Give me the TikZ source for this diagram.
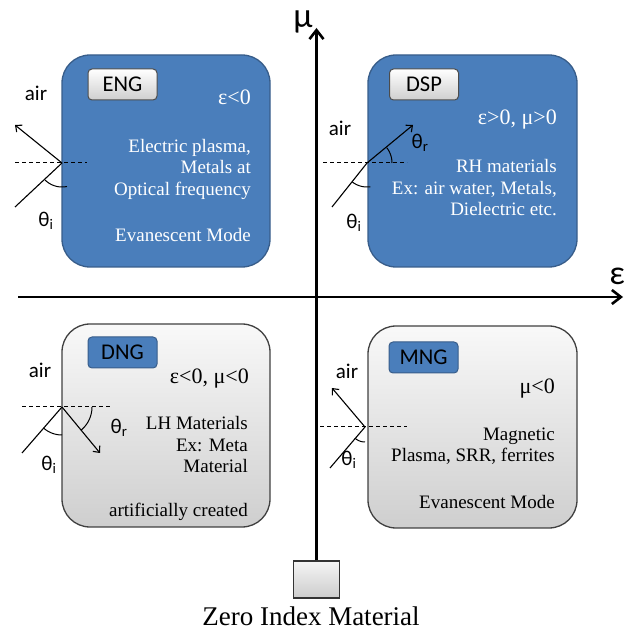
\documentclass[tikz,border=0pt]{standalone}
\usepackage{fontspec}
\setmainfont{Liberation Serif}
\newfontfamily\tnr{Liberation Serif}
\newfontfamily\calib{Carlito}
\usetikzlibrary{arrows.meta,calc}
\definecolor{qblue}{RGB}{74,126,187}
\definecolor{qblueline}{RGB}{56,93,138}
\tikzset{
  quadblue/.style={draw=qblueline, line width=1.3pt, fill=qblue, rounded corners=28pt, inner sep=0pt},
  quadgray/.style={draw=black!75, line width=1.3pt, top color=gray!5, bottom color=gray!38, rounded corners=28pt, inner sep=0pt},
  taggray/.style={draw=black!70, line width=1pt, rounded corners=4pt, top color=white, bottom color=gray!38,
    minimum width=69pt, minimum height=31pt, inner sep=0pt, font=\calib\fontsize{22.5}{24}\selectfont},
  tagblue/.style={draw=qblueline, line width=1pt, rounded corners=4pt, fill=qblue,
    minimum width=69pt, minimum height=31pt, inner sep=0pt, font=\calib\fontsize{22.5}{24}\selectfont},
  btext/.style={font=\tnr\fontsize{19}{21.5}\selectfont, align=right, anchor=east, inner sep=0pt},
  symtext/.style={font=\tnr\fontsize{22}{24}\selectfont, align=right, anchor=east, inner sep=0pt},
  airtext/.style={font=\calib\fontsize{21}{22}\selectfont, inner sep=0pt},
  angtext/.style={font=\calib\fontsize{21}{22}\selectfont, inner sep=0pt},
  ray/.style={line width=1.1pt},
  rayarrow/.style={line width=1.1pt, -{Straight Barb[length=5pt,width=9pt]}},
  dashline/.style={line width=1pt, dash pattern=on 4pt off 3pt},
  anglearc/.style={line width=1pt},
  axisline/.style={line width=2.6pt, -{Straight Barb[length=9pt,width=14pt]}},
}
\begin{document}
\begin{tikzpicture}[x=1pt,y=-1pt]
\useasboundingbox (0,0) rectangle (633,631);

% axes
\coordinate (muTip) at (316.5,28);
\coordinate (epsL) at (18,297);
\coordinate (epsTip) at (623,297);
\node[draw=black!80, line width=1.2pt, top color=gray!8, bottom color=gray!40, minimum width=46pt, minimum height=37pt, inner sep=0pt] (zsq) at (316.5,579.5) {};
\draw[axisline] (zsq.north) -- (muTip);
\draw[axisline] (epsL) -- (epsTip);
\node[font=\calib\fontsize{35}{37}\selectfont, inner sep=0pt] (mulab) at (303,22) {μ};
\node[font=\calib\fontsize{34}{36}\selectfont, inner sep=0pt] (epslab) at (617,276) {ε};
\node[font=\tnr\fontsize{27}{30}\selectfont, inner sep=0pt] (zim) at (311,616) {Zero Index Material};

% quadrant boxes
\node[quadblue, minimum width=208pt, minimum height=212pt] (eng) at (166,161) {};
\node[quadblue, minimum width=209pt, minimum height=212pt] (dsp) at (472.5,161) {};
\node[quadgray, minimum width=208pt, minimum height=203pt] (dng) at (166,425.5) {};
\node[quadgray, minimum width=209pt, minimum height=202pt] (mng) at (472.5,427) {};

% tags
\node[taggray] (engtag) at (122.5,84.5) {ENG};
\node[taggray] (dsptag) at (424,84.5) {DSP};
\node[tagblue] (dngtag) at (122.5,352.5) {DNG};
\node[tagblue] (mngtag) at (423.5,357.5) {MNG};

% texts ENG
\node[symtext, text=white] (engt1) at (251,97) {ε<0};
\node[btext, text=white] (engt2) at (251,169) {Electric plasma,\\Metals at\\Optical frequency};
\node[btext, text=white] (engt3) at (251,235) {Evanescent Mode};
% texts DSP
\node[symtext, text=white] (dspt1) at (557,119.5) {ε>0, μ>0};
\node[btext, text=white] (dspt2) at (557,188) {RH materials\\Ex: air water, Metals,\\Dielectric etc.};
% texts DNG
\node[symtext] (dngt1) at (249,379) {ε<0, μ<0};
\node[btext] (dngt2) at (248,445) {LH Materials\\Ex: Meta\\Material};
\node[btext] (dngt3) at (248,512) {artificially created};
% texts MNG
\node[symtext] (mngt1) at (555,389) {μ<0};
\node[btext] (mngt2) at (555,446) {Magnetic\\Plasma, SRR, ferrites};
\node[btext] (mngt3) at (555,502) {Evanescent Mode};

% ---- ENG rays
\coordinate (engP) at (62,163);
\coordinate (engDL) at (15,163);
\coordinate (engDR) at (87,163);
\coordinate (engI) at (15,207);
\coordinate (engR) at (15,125);
\draw[dashline] (engDL) -- (engDR);
\draw[ray] (engI) -- (engP);
\draw[rayarrow] (engP) -- (engR);
\draw[anglearc] plot[domain=78:135, samples=20, variable=\t] ({62+24*cos(\t)},{163+24*sin(\t)});
\node[airtext] (engair) at (36,93) {air};
\node[angtext] (engthi) at (46,221) {θ\textsubscript{i}};

% ---- DSP rays
\coordinate (dspP) at (367,163);
\coordinate (dspDL) at (323,163);
\coordinate (dspDR) at (407,163);
\coordinate (dspI) at (332,207);
\coordinate (dspR) at (413,125);
\draw[dashline] (dspDL) -- (dspDR);
\draw[ray] (dspI) -- (dspP);
\draw[rayarrow] (dspP) -- (dspR);
\draw[anglearc] plot[domain=-38:0, samples=20, variable=\t] ({367+25*cos(\t)},{163+25*sin(\t)});
\draw[anglearc] plot[domain=82:128, samples=20, variable=\t] ({367+24*cos(\t)},{163+24*sin(\t)});
\node[airtext] (dspair) at (340,128) {air};
\node[angtext] (dspthr) at (420,143) {θ\textsubscript{r}};
\node[angtext] (dspthi) at (354,223) {θ\textsubscript{i}};

% ---- DNG rays
\coordinate (dngP) at (62,407);
\coordinate (dngDL) at (22,407);
\coordinate (dngDR) at (110,407);
\coordinate (dngI) at (22,453);
\coordinate (dngR) at (100,453);
\draw[dashline] (dngDL) -- (dngDR);
\draw[ray] (dngI) -- (dngP);
\draw[rayarrow] (dngP) -- (dngR);
\draw[anglearc] plot[domain=0:50, samples=20, variable=\t] ({62+30*cos(\t)},{407+30*sin(\t)});
\draw[anglearc] plot[domain=90:131, samples=20, variable=\t] ({62+28*cos(\t)},{407+28*sin(\t)});
\node[airtext] (dngair) at (40,370) {air};
\node[angtext] (dngthr) at (119,428) {θ\textsubscript{r}};
\node[angtext] (dngthi) at (49,465) {θ\textsubscript{i}};

% ---- MNG rays
\coordinate (mngP) at (365,427);
\coordinate (mngDL) at (320,427);
\coordinate (mngDR) at (407,427);
\coordinate (mngI) at (330,468);
\coordinate (mngR) at (332,388);
\draw[dashline] (mngDL) -- (mngDR);
\draw[ray] (mngI) -- (mngP);
\draw[rayarrow] (mngP) -- (mngR);
\draw[anglearc] plot[domain=90:132, samples=20, variable=\t] ({365+15*cos(\t)},{427+15*sin(\t)});
\node[airtext] (mngair) at (347,371) {air};
\node[angtext] (mngthi) at (349,460) {θ\textsubscript{i}};
\end{tikzpicture}
\end{document}
